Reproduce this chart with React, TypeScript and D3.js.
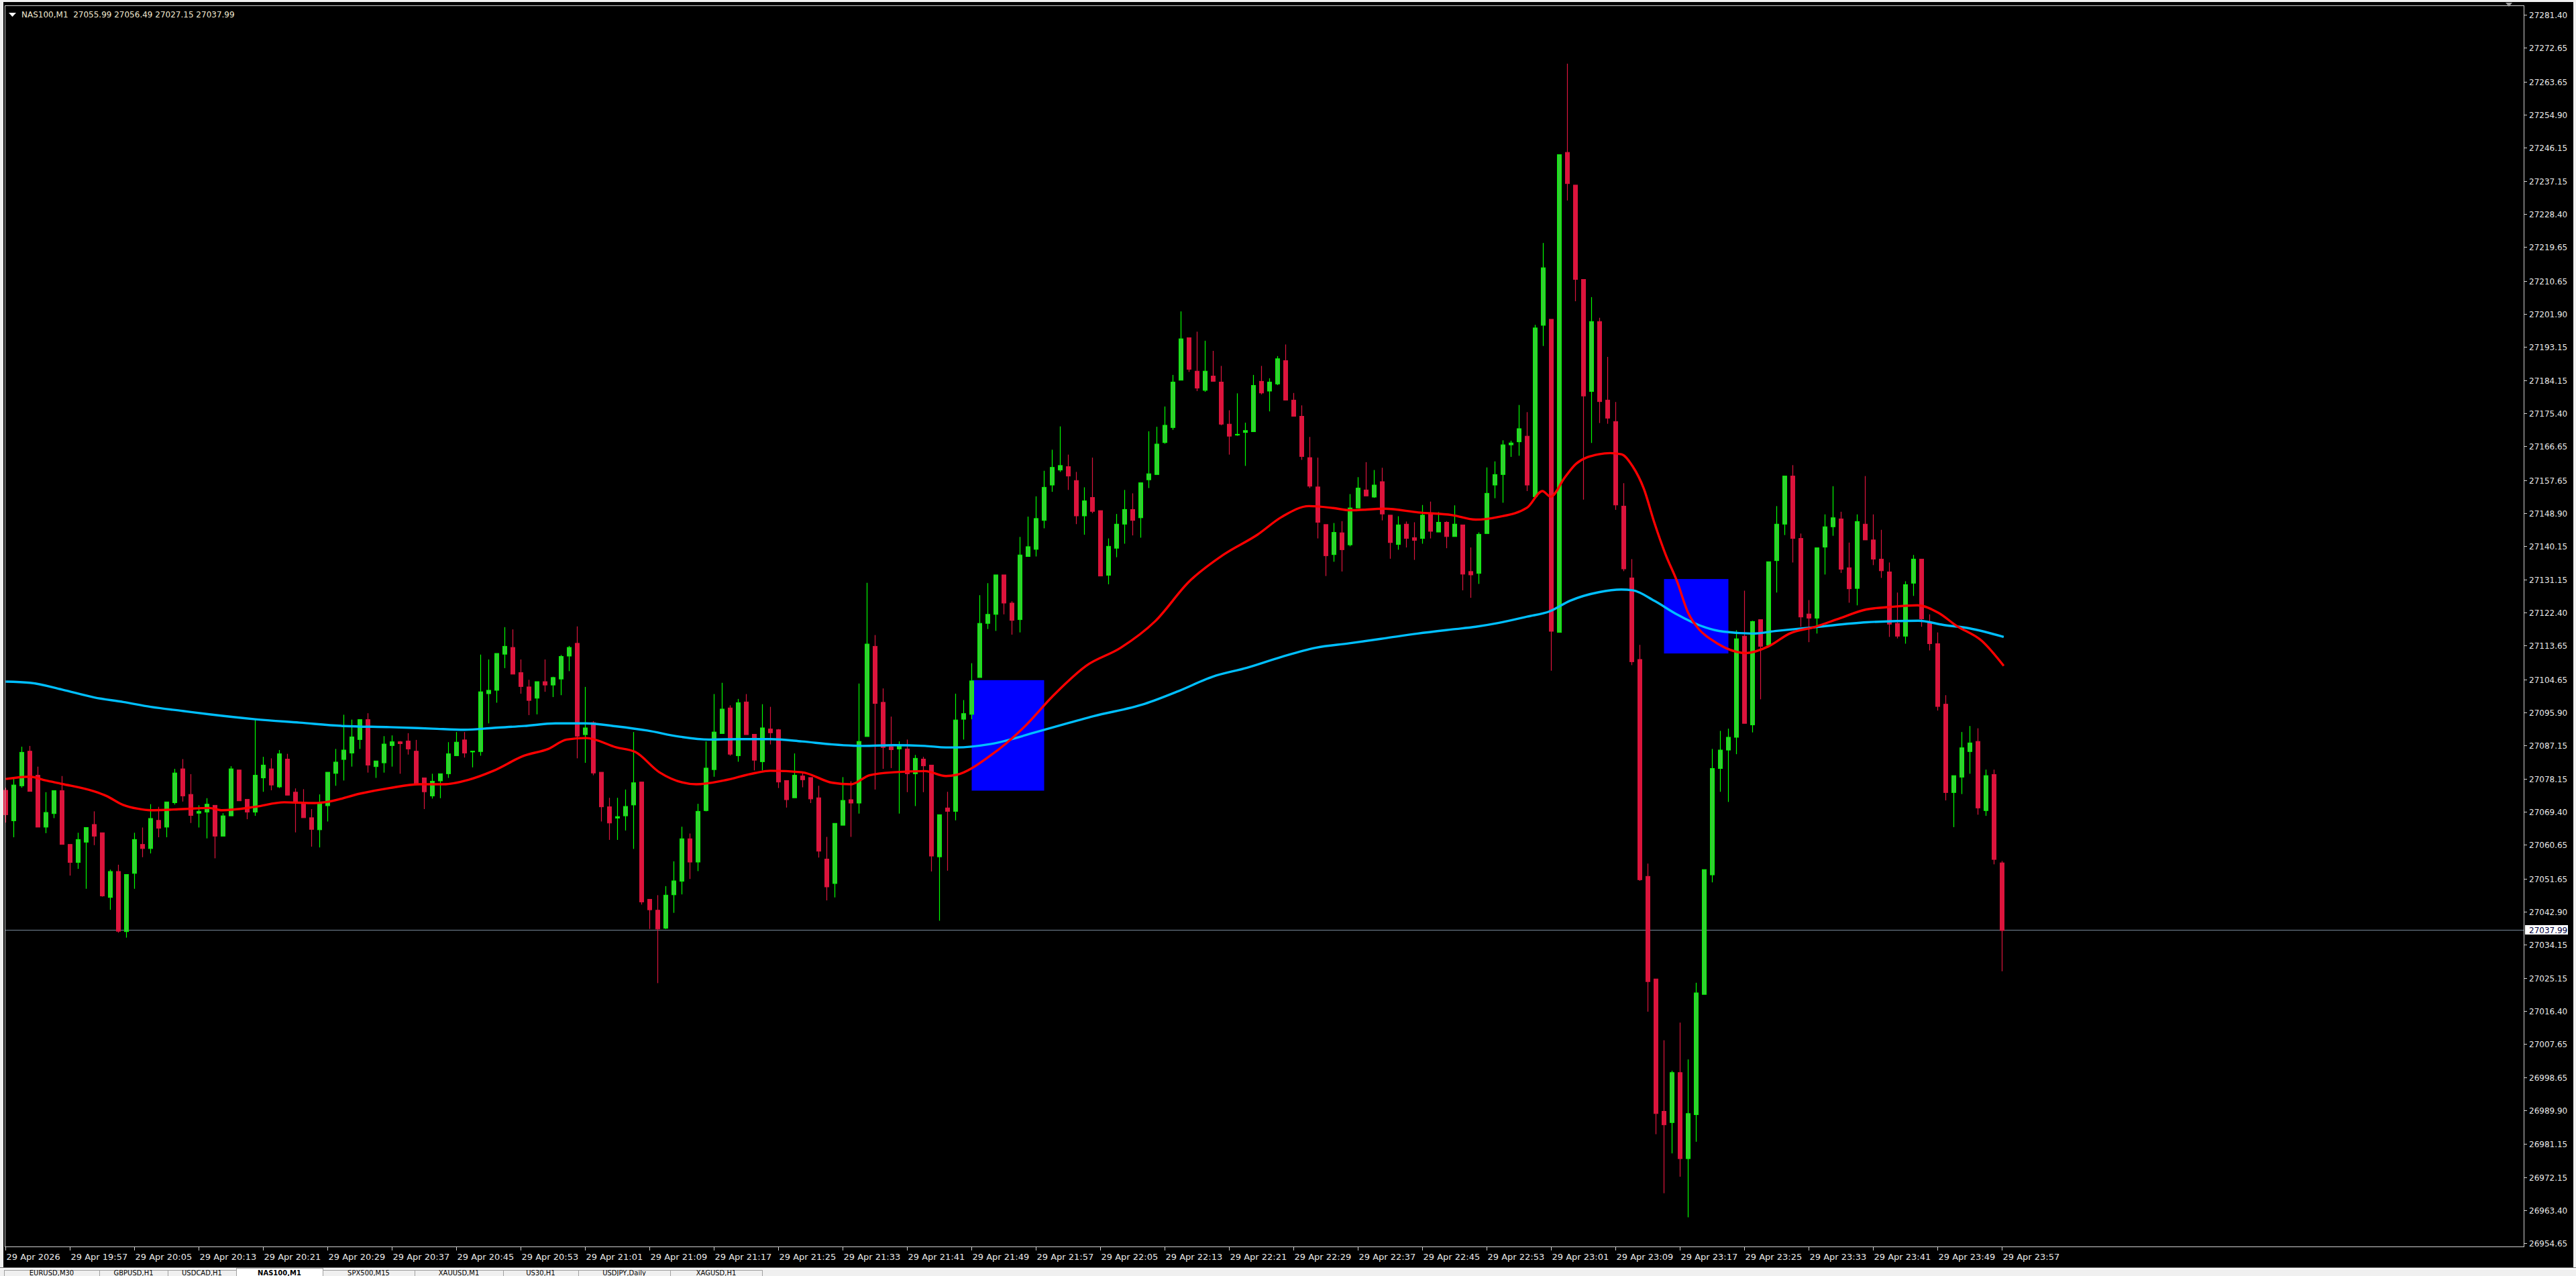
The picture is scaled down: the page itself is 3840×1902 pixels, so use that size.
import React from "react";
import * as d3 from "d3";

const symbolTitle = "NAS100,M1";
const headerOHLC = ["27055.99", "27056.49", "27027.15", "27037.99"];
const currentPrice = 27037.99;

const timeLabels = [
  "29 Apr 2026", "29 Apr 19:57", "29 Apr 20:05", "29 Apr 20:13", "29 Apr 20:21", "29 Apr 20:29",
  "29 Apr 20:37", "29 Apr 20:45", "29 Apr 20:53", "29 Apr 21:01", "29 Apr 21:09", "29 Apr 21:17",
  "29 Apr 21:25", "29 Apr 21:33", "29 Apr 21:41", "29 Apr 21:49", "29 Apr 21:57", "29 Apr 22:05",
  "29 Apr 22:13", "29 Apr 22:21", "29 Apr 22:29", "29 Apr 22:37", "29 Apr 22:45", "29 Apr 22:53",
  "29 Apr 23:01", "29 Apr 23:09", "29 Apr 23:17", "29 Apr 23:25", "29 Apr 23:33", "29 Apr 23:41",
  "29 Apr 23:49", "29 Apr 23:57",
];
const timeLabelStep = 8;

const priceTicks = [
  "27281.40", "27272.65", "27263.65", "27254.90", "27246.15", "27237.15", "27228.40", "27219.65",
  "27210.65", "27201.90", "27193.15", "27184.15", "27175.40", "27166.65", "27157.65", "27148.90",
  "27140.15", "27131.15", "27122.40", "27113.65", "27104.65", "27095.90", "27087.15", "27078.15",
  "27069.40", "27060.65", "27051.65", "27042.90", "27034.15", "27025.15", "27016.40", "27007.65",
  "26998.65", "26989.90", "26981.15", "26972.15", "26963.40", "26954.65",
];

// OHLC, one minute bars from 19:49 to 23:57
const opens = [
  27075.3, 27067.2, 27076.5, 27085.7, 27079.3, 27065.5, 27069.1, 27075.2, 27060.9, 27056.1,
  27061.5, 27066.2, 27064.0, 27046.8, 27053.7, 27037.7, 27053.2, 27060.9, 27059.8, 27067.3,
  27065.5, 27072.0, 27081.0, 27074.2, 27069.2, 27069.5, 27071.3, 27063.1, 27068.5, 27080.7,
  27072.9, 27069.5, 27078.6, 27081.0, 27076.2, 27083.6, 27074.8, 27072.0, 27068.0, 27064.8,
  27071.2, 27079.8, 27083.5, 27085.2, 27088.8, 27094.1, 27081.6, 27082.6, 27087.2, 27088.2,
  27088.4, 27085.7, 27078.6, 27073.8, 27077.8, 27079.7, 27084.5, 27088.7, 27085.5, 27085.6,
  27101.0, 27101.9, 27111.5, 27113.3, 27106.6, 27102.8, 27099.8, 27104.2, 27103.3, 27104.9,
  27111.0, 27114.4, 27090.1, 27093.3, 27080.1, 27070.9, 27067.9, 27068.5, 27071.4, 27077.5,
  27046.3, 27043.4, 27038.6, 27047.5, 27051.1, 27062.4, 27056.2, 27069.9, 27080.8, 27090.4,
  27097.2, 27084.5, 27098.8, 27090.2, 27082.9, 27091.6, 27091.4, 27077.9, 27073.3, 27079.1,
  27078.7, 27073.3, 27057.0, 27050.5, 27066.0, 27072.8, 27071.9, 27089.6, 27113.6, 27098.7,
  27086.9, 27086.3, 27086.3, 27079.7, 27083.6, 27082.0, 27057.6, 27070.6, 27069.7, 27094.2,
  27095.5, 27105.3, 27119.7, 27122.1, 27132.6, 27125.1, 27120.7, 27137.5, 27139.4, 27147.1,
  27156.5, 27160.5, 27161.4, 27157.7, 27148.3, 27153.2, 27149.7, 27132.5, 27139.7, 27146.1,
  27150.0, 27147.8, 27157.9, 27159.3, 27167.8, 27171.8, 27184.4, 27195.7, 27186.8, 27181.7,
  27185.5, 27183.9, 27172.7, 27169.8, 27170.5, 27170.7, 27184.1, 27181.5, 27183.4, 27189.6,
  27179.1, 27174.8, 27163.8, 27156.0, 27146.0, 27138.0, 27143.8, 27140.6, 27150.4, 27155.2,
  27153.3, 27157.4, 27148.5, 27140.7, 27146.1, 27142.5, 27142.3, 27148.8, 27144.0, 27146.6,
  27142.8, 27145.9, 27133.5, 27133.0, 27143.6, 27156.5, 27159.3, 27167.2, 27168.0, 27169.5,
  27153.4, 27199.0, 27200.6, 27117.3, 27245.0, 27236.3, 27211.2, 27181.4, 27200.0, 27179.1,
  27173.4, 27150.9, 27131.8, 27110.1, 27052.4, 27025.1, 26989.9, 26986.9, 27000.2, 26977.3,
  26989.0, 27021.0, 27052.8, 27081.1, 27086.0, 27089.4, 27116.3, 27092.7, 27120.7, 27113.9,
  27136.4, 27146.1, 27158.9, 27142.3, 27122.2, 27121.1, 27140.0, 27145.4, 27147.5, 27134.5,
  27129.0, 27146.1, 27141.9, 27136.8, 27133.4, 27119.7, 27116.3, 27130.4, 27136.8, 27120.0,
  27114.3, 27098.2, 27074.7, 27078.8, 27085.6, 27088.3, 27069.9, 27079.5, 27055.99,
];
const highs = [
  27076.0, 27078.7, 27086.9, 27087.1, 27081.6, 27074.8, 27075.2, 27079.1, 27060.9, 27064.0,
  27065.4, 27069.7, 27064.0, 27054.2, 27055.5, 27052.9, 27064.0, 27065.4, 27071.6, 27070.9,
  27072.2, 27081.0, 27083.6, 27079.6, 27071.3, 27073.2, 27071.3, 27069.2, 27081.7, 27080.7,
  27072.9, 27094.1, 27084.2, 27083.8, 27086.0, 27085.0, 27075.8, 27075.6, 27070.3, 27074.2,
  27080.1, 27086.3, 27095.4, 27094.1, 27094.1, 27095.8, 27083.1, 27089.7, 27089.9, 27088.4,
  27090.5, 27088.7, 27078.6, 27079.7, 27079.7, 27088.1, 27090.8, 27090.8, 27085.7, 27111.4,
  27110.1, 27111.7, 27118.7, 27118.1, 27110.1, 27104.7, 27104.2, 27110.1, 27105.5, 27111.3,
  27113.7, 27118.9, 27102.8, 27093.7, 27080.1, 27073.3, 27073.3, 27075.5, 27090.8, 27077.5,
  27046.3, 27047.4, 27049.8, 27056.4, 27065.6, 27063.8, 27071.7, 27088.3, 27100.9, 27103.9,
  27097.9, 27099.6, 27100.9, 27090.2, 27098.2, 27097.5, 27091.6, 27077.9, 27085.1, 27080.1,
  27078.7, 27076.5, 27062.9, 27066.5, 27078.8, 27077.7, 27103.7, 27130.5, 27116.6, 27102.4,
  27094.9, 27088.3, 27088.8, 27084.7, 27084.2, 27082.0, 27068.8, 27074.9, 27101.0, 27099.3,
  27109.1, 27127.2, 27130.4, 27132.6, 27132.6, 27125.6, 27142.7, 27148.1, 27153.5, 27160.3,
  27165.9, 27172.1, 27164.6, 27160.0, 27155.9, 27163.8, 27149.7, 27142.3, 27148.8, 27155.2,
  27154.3, 27157.1, 27170.8, 27172.0, 27177.4, 27185.8, 27202.7, 27195.7, 27197.3, 27194.9,
  27192.2, 27188.2, 27176.4, 27180.9, 27173.1, 27185.8, 27188.2, 27184.9, 27190.8, 27193.9,
  27181.0, 27177.7, 27169.3, 27163.8, 27146.0, 27146.4, 27146.9, 27154.1, 27158.6, 27162.6,
  27160.5, 27161.1, 27148.5, 27148.2, 27146.8, 27146.6, 27151.2, 27152.1, 27149.3, 27146.9,
  27151.1, 27145.9, 27139.9, 27143.9, 27161.2, 27162.8, 27168.4, 27168.3, 27177.8, 27175.9,
  27199.1, 27220.9, 27200.6, 27244.4, 27268.6, 27236.3, 27211.2, 27206.5, 27201.0, 27190.6,
  27178.6, 27157.0, 27136.8, 27114.0, 27055.8, 27025.1, 27008.8, 27000.7, 27013.5, 27003.7,
  27024.1, 27054.2, 27086.3, 27091.1, 27091.7, 27117.9, 27128.4, 27120.4, 27120.7, 27136.1,
  27150.9, 27158.9, 27161.8, 27143.6, 27125.9, 27139.8, 27148.7, 27156.2, 27149.4, 27141.2,
  27148.7, 27158.9, 27148.7, 27144.6, 27135.9, 27127.9, 27130.9, 27137.9, 27136.8, 27122.1,
  27117.3, 27100.6, 27079.2, 27090.8, 27092.4, 27091.8, 27080.8, 27080.8, 27056.49,
];
const lows = [
  27066.7, 27062.8, 27076.0, 27075.0, 27065.5, 27063.9, 27067.9, 27060.9, 27052.6, 27054.4,
  27049.1, 27060.7, 27047.0, 27043.5, 27037.4, 27036.1, 27049.1, 27057.5, 27058.5, 27062.8,
  27062.8, 27071.5, 27072.3, 27066.6, 27065.4, 27062.5, 27057.2, 27063.1, 27068.5, 27072.5,
  27067.6, 27068.5, 27074.9, 27075.3, 27075.9, 27074.0, 27064.1, 27068.0, 27060.3, 27060.1,
  27067.0, 27076.5, 27077.9, 27081.6, 27086.3, 27080.0, 27078.6, 27080.0, 27081.6, 27079.7,
  27084.8, 27077.0, 27070.3, 27073.1, 27073.2, 27078.6, 27084.5, 27084.0, 27081.4, 27084.5,
  27093.1, 27098.6, 27107.8, 27106.2, 27101.0, 27095.3, 27095.5, 27101.5, 27100.1, 27100.6,
  27107.0, 27083.8, 27082.6, 27079.3, 27067.0, 27062.1, 27062.1, 27064.6, 27059.7, 27044.9,
  27038.4, 27024.0, 27038.4, 27042.7, 27047.6, 27051.7, 27053.8, 27069.7, 27078.9, 27090.4,
  27084.5, 27082.9, 27090.1, 27080.6, 27080.6, 27087.5, 27075.9, 27070.7, 27073.3, 27076.1,
  27071.9, 27057.4, 27046.0, 27046.8, 27066.0, 27062.9, 27069.1, 27089.6, 27075.5, 27081.0,
  27081.2, 27069.1, 27074.8, 27071.1, 27074.8, 27053.7, 27040.6, 27053.9, 27067.3, 27088.8,
  27094.2, 27105.3, 27118.2, 27117.7, 27122.1, 27116.7, 27117.3, 27137.5, 27137.5, 27145.0,
  27154.7, 27160.0, 27155.2, 27146.1, 27143.3, 27149.0, 27132.3, 27130.1, 27137.3, 27140.9,
  27143.1, 27142.5, 27155.7, 27159.3, 27167.5, 27171.2, 27184.4, 27186.6, 27181.5, 27181.3,
  27184.0, 27172.4, 27164.6, 27169.6, 27161.6, 27170.7, 27180.6, 27176.1, 27183.1, 27179.1,
  27174.8, 27163.2, 27155.7, 27142.3, 27132.3, 27136.1, 27133.5, 27140.2, 27150.4, 27153.6,
  27153.1, 27147.1, 27136.9, 27139.3, 27139.9, 27136.6, 27140.9, 27142.3, 27144.0, 27139.7,
  27142.8, 27128.5, 27126.5, 27130.2, 27143.6, 27153.0, 27151.8, 27164.0, 27164.3, 27154.9,
  27153.4, 27193.5, 27107.1, 27117.3, 27232.2, 27205.4, 27152.6, 27167.7, 27173.0, 27172.8,
  27149.9, 27133.6, 27108.6, 27051.2, 27016.4, 26983.8, 26968.1, 26978.7, 26972.5, 26961.7,
  26981.8, 27021.0, 27050.8, 27074.9, 27072.2, 27084.9, 27093.1, 27090.7, 27099.5, 27113.9,
  27127.9, 27143.2, 27135.9, 27118.8, 27114.7, 27117.0, 27132.7, 27143.0, 27133.1, 27125.2,
  27124.5, 27141.9, 27135.2, 27131.8, 27116.1, 27115.7, 27114.3, 27127.0, 27118.8, 27112.5,
  27096.5, 27072.6, 27065.5, 27074.3, 27079.7, 27068.8, 27068.5, 27055.6, 27027.15,
];
const closes = [
  27068.8, 27076.7, 27085.4, 27075.0, 27065.5, 27069.4, 27075.2, 27060.9, 27056.1, 27062.2,
  27065.4, 27063.1, 27047.2, 27053.7, 27037.8, 27052.9, 27062.2, 27059.8, 27067.8, 27065.2,
  27072.2, 27079.9, 27073.8, 27068.6, 27069.7, 27071.6, 27063.1, 27068.5, 27081.0, 27072.5,
  27069.5, 27079.3, 27082.0, 27076.7, 27085.0, 27074.0, 27072.0, 27068.0, 27064.9, 27071.7,
  27080.1, 27082.8, 27086.0, 27089.5, 27094.1, 27082.0, 27083.1, 27087.6, 27088.2, 27087.7,
  27086.3, 27077.0, 27074.9, 27077.7, 27079.7, 27085.0, 27088.1, 27085.2, 27085.7, 27101.5,
  27101.9, 27111.7, 27113.6, 27106.2, 27102.9, 27099.2, 27104.2, 27103.3, 27105.3, 27110.9,
  27113.3, 27089.7, 27091.9, 27079.9, 27070.9, 27066.6, 27068.3, 27071.0, 27077.3, 27045.6,
  27043.5, 27038.4, 27047.4, 27051.2, 27062.4, 27056.2, 27069.7, 27081.2, 27090.8, 27096.9,
  27084.9, 27098.6, 27090.1, 27083.3, 27091.9, 27090.6, 27077.5, 27072.8, 27079.3, 27078.1,
  27073.0, 27059.1, 27049.6, 27066.5, 27072.6, 27071.9, 27088.3, 27114.2, 27098.4, 27086.7,
  27086.1, 27087.1, 27079.7, 27083.8, 27081.8, 27057.8, 27068.8, 27069.7, 27094.0, 27095.7,
  27104.4, 27119.7, 27122.1, 27132.6, 27125.1, 27120.5, 27137.9, 27140.1, 27147.6, 27155.9,
  27161.2, 27161.7, 27158.9, 27148.3, 27152.3, 27149.5, 27132.3, 27140.2, 27146.1, 27150.0,
  27147.1, 27157.1, 27159.5, 27167.4, 27172.4, 27183.9, 27195.4, 27187.3, 27182.3, 27186.8,
  27184.1, 27172.7, 27169.5, 27170.0, 27171.0, 27183.0, 27181.0, 27183.9, 27190.1, 27179.1,
  27174.8, 27164.1, 27156.2, 27146.6, 27137.7, 27143.9, 27139.3, 27150.4, 27155.7, 27153.6,
  27156.5, 27148.8, 27141.2, 27145.9, 27142.3, 27141.8, 27148.5, 27144.2, 27146.6, 27142.8,
  27146.1, 27132.8, 27132.6, 27143.4, 27154.3, 27159.3, 27167.2, 27167.7, 27171.5, 27156.5,
  27198.3, 27214.3, 27117.6, 27244.4, 27236.7, 27211.2, 27180.2, 27200.0, 27178.7, 27174.3,
  27151.2, 27134.2, 27109.5, 27051.5, 27024.4, 26989.3, 26986.3, 27000.2, 26977.3, 26989.3,
  27021.4, 27054.2, 27081.1, 27086.0, 27089.4, 27115.6, 27093.1, 27120.2, 27113.6, 27136.1,
  27146.1, 27158.9, 27142.3, 27121.4, 27121.1, 27139.8, 27145.4, 27147.8, 27134.1, 27128.9,
  27146.8, 27141.9, 27136.8, 27133.7, 27119.5, 27116.3, 27130.0, 27136.8, 27120.9, 27114.3,
  27097.6, 27074.7, 27079.2, 27086.6, 27087.9, 27070.6, 27079.2, 27056.9, 27037.99,
];

// moving averages: [bar index, price]
const fastMA: [number, number][] = [
  [0, 27078.3], [3, 27078.9], [5, 27077.9], [7, 27077.0], [11, 27075.0], [12.5, 27073.8],
  [14.6, 27071.4], [16.4, 27070.4], [18, 27070.0], [22, 27070.3], [25.3, 27070.6], [26.8, 27070.0],
  [31, 27070.9], [34.6, 27072.1], [38.4, 27071.9], [40.2, 27072.3], [44, 27074.4], [47.7, 27075.9],
  [51.4, 27076.9], [54.4, 27076.9], [57.5, 27078.1], [60.6, 27080.5], [64.4, 27084.5], [67.4, 27086.3],
  [69.7, 27088.8], [72.1, 27089.2], [75.9, 27086.7], [78.2, 27085.5], [81.2, 27080.1], [85.8, 27076.9],
  [89.2, 27077.9], [93.1, 27079.9], [95, 27080.5], [98.9, 27080.1], [102.7, 27077.3], [105, 27076.9],
  [107.3, 27079.3], [110.3, 27080.1], [114.2, 27080.4], [116.8, 27079.1], [118.1, 27079.4],
  [122.3, 27084.5], [126.5, 27092.1], [130, 27100.2], [134.2, 27108.4], [138.5, 27113.2],
  [142.8, 27120.3], [147, 27130.8], [151.3, 27138.0], [155.5, 27143.3], [158.5, 27148.0],
  [161.9, 27150.9], [164.9, 27150.4], [167, 27149.8], [171.3, 27150.2], [175.5, 27149.2],
  [179.7, 27148.5], [182.6, 27147.3], [185.4, 27148.0], [189, 27150.5], [190.9, 27154.9],
  [191.9, 27153.4], [193.7, 27158.6], [195.1, 27162.2], [197.9, 27164.7], [199.3, 27165.0],
  [200.7, 27164.7], [202.1, 27161.5], [203.5, 27155.5], [204.8, 27146.5], [206.2, 27138.0],
  [207.6, 27131.0], [209.0, 27122.5], [210.4, 27118.0], [211.8, 27115.5], [213.6, 27113.2],
  [216.2, 27111.8], [219.0, 27113.6], [221.6, 27117.0], [224.8, 27118.8], [227.9, 27121.1],
  [231.1, 27123.4], [234.3, 27124.1], [237.5, 27124.5], [240.1, 27122.5], [242.3, 27119.1],
  [245.5, 27115.0], [248.2, 27108.4],
];
const slowMA: [number, number][] = [
  [0, 27104.2], [3, 27103.9], [7, 27102.1], [11, 27100.0], [14.6, 27098.8], [18, 27097.5],
  [22, 27096.4], [25.3, 27095.5], [31, 27094.2], [36.5, 27093.3], [42, 27092.4], [47.7, 27092.1],
  [53, 27091.7], [57, 27091.4], [60.6, 27091.9], [64.4, 27092.4], [68.3, 27093.1], [72.1, 27093.1],
  [75.9, 27092.3], [79.7, 27091.2], [83.6, 27089.6], [87.4, 27088.8], [91.2, 27088.9], [95, 27088.9],
  [98.9, 27088.3], [102.7, 27087.5], [106.5, 27087.1], [110.3, 27087.3], [114.2, 27087.1],
  [116.8, 27086.7], [118.1, 27086.7], [122.3, 27087.6], [128.7, 27091.2], [135.1, 27095.0],
  [141.5, 27098.3], [145.7, 27101.7], [149.9, 27105.5], [154.2, 27107.9], [158.5, 27110.8],
  [162.7, 27113.2], [166.9, 27114.4], [171.2, 27115.7], [175.4, 27117.0], [179.7, 27118.1],
  [182.6, 27118.8], [185.4, 27119.8], [189, 27121.5], [191.8, 27122.9], [194.3, 27125.7],
  [197.9, 27128.0], [200.7, 27128.7], [202.1, 27128.5], [204.8, 27125.7], [207.6, 27122.1],
  [210.4, 27119.2], [213.4, 27117.5], [217, 27117.0], [220, 27117.7], [224.8, 27118.7],
  [231.2, 27120.0], [237.6, 27120.4], [240.7, 27119.3], [243.9, 27118.4], [248.2, 27116.1],
];

// rectangle objects: bar range and price range
const boxFrom = [120, 206];
const boxTo = [129, 214];
const boxTop = [27104.6, 27131.5];
const boxBottom = [27075.2, 27111.7];

const tabNames = ["EURUSD,M30", "GBPUSD,H1", "USDCAD,H1", "NAS100,M1", "SPX500,M15", "XAUUSD,M1", "US30,H1", "USDJPY,Daily", "XAGUSD,H1"];
const tabEdges = [6, 148, 250, 352, 481, 618, 750, 862, 999, 1136];

const W = 3840;
const H = 1902;
const plotLeft = 7;
const plotTop = 8;
const plotRight = 3762;
const plotBottom = 1858;

const BULL_FILL = "#32cd32";
const BULL_LINE = "#00ff00";
const BEAR = "#dc143c";
const FONT = "'DejaVu Sans', sans-serif";

export default function App() {
  const n = opens.length;
  const x = d3.scaleLinear().domain([0, n - 1]).range([8.5, 8.5 + 12 * (n - 1)]);
  const y = d3.scaleLinear().domain([26954.65, 27281.4]).range([1854.0, 23.2]);

  const lineGen = d3
    .line<[number, number]>()
    .x((d) => x(d[0]))
    .y((d) => y(d[1]))
    .curve(d3.curveMonotoneX);

  const bodyW = 6;

  const candles = d3.range(n).map((i) => {
    const o = opens[i], c = closes[i], h = highs[i], l = lows[i];
    const cx = Math.round(x(i) - 0.5) + 0.5;
    const bull = c >= o;
    const yTop = y(Math.max(o, c));
    const yBot = y(Math.min(o, c));
    const bh = Math.max(1, yBot - yTop);
    return (
      <g key={i}>
        <line x1={cx} x2={cx} y1={y(h)} y2={y(l)} stroke={bull ? BULL_LINE : BEAR} strokeWidth={1.2} />
        <rect
          x={cx - bodyW / 2}
          y={yTop}
          width={bodyW}
          height={bh}
          fill={bull ? BULL_FILL : BEAR}
          stroke={bull ? BULL_LINE : BEAR}
          strokeWidth={1}
        />
      </g>
    );
  });

  const tabs = tabNames.map((t, k) => {
    const x0 = tabEdges[k];
    const w = tabEdges[k + 1] - x0;
    const active = t === symbolTitle;
    return (
      <g key={t}>
        <rect x={x0 + 0.5} y={active ? 1890.5 : 1893.5} width={w} height={20} fill={active ? "#ffffff" : "#f0f0f0"} stroke="#a0a0a0" strokeWidth={1} />
        <text x={x0 + w / 2} y={1901} fontSize={10} fontFamily={FONT} fill="#000" textAnchor="middle" fontWeight={active ? 700 : 400}>
          {t}
        </text>
      </g>
    );
  });

  return (
    <svg width={W} height={H} style={{ position: "absolute", left: 0, top: 0, display: "block" }}>
      <rect x={0} y={0} width={W} height={H} fill="#f0f0f0" />
      <rect x={5} y={3} width={3831} height={1886} fill="#000000" />
      {/* window bottom separator */}
      <line x1={0} x2={W} y1={1889.5} y2={1889.5} stroke="#707070" strokeWidth={1} />
      <line x1={0} x2={W} y1={1891.5} y2={1891.5} stroke="#ffffff" strokeWidth={1} />
      <rect x={0} y={1892} width={W} height={10} fill="#f0f0f0" />
      <g>{tabs}</g>

      {/* rectangles (background objects) */}
      {boxFrom.map((f, k) => (
        <rect
          key={k}
          x={x(f)}
          y={y(boxTop[k])}
          width={x(boxTo[k]) - x(f)}
          height={y(boxBottom[k]) - y(boxTop[k])}
          fill="#0000ff"
        />
      ))}

      {/* current price line */}
      <line x1={plotLeft} x2={plotRight} y1={Math.round(y(currentPrice)) - 0.5} y2={Math.round(y(currentPrice)) - 0.5} stroke="#778899" strokeWidth={1} />

      {candles}

      <path d={lineGen(slowMA) || ""} fill="none" stroke="#00bfff" strokeWidth={3.4} strokeLinejoin="round" />
      <path d={lineGen(fastMA) || ""} fill="none" stroke="#ff0000" strokeWidth={3.4} strokeLinejoin="round" />

      {/* frame */}
      <rect x={plotLeft + 0.5} y={plotTop + 0.5} width={plotRight - plotLeft} height={plotBottom - plotTop} fill="none" stroke="#d0d0d0" strokeWidth={1} />

      {/* price axis */}
      {priceTicks.map((t) => {
        const yy = Math.round(y(parseFloat(t))) - 0.5;
        return (
          <g key={t}>
            <line x1={plotRight + 0.5} x2={plotRight + 5} y1={yy} y2={yy} stroke="#d0d0d0" strokeWidth={1} />
            <text x={3770} y={yy + 4.5} fontSize={12} fontFamily={FONT} fill="#e8e8e8">
              {t}
            </text>
          </g>
        );
      })}
      <rect x={3764} y={Math.round(y(currentPrice)) - 8} width={64} height={14} fill="#ffffff" />
      <text x={3770} y={Math.round(y(currentPrice)) + 3.5} fontSize={12} fontFamily={FONT} fill="#000040">
        {currentPrice.toFixed(2)}
      </text>

      {/* time axis */}
      {timeLabels.map((t, k) => {
        const xx = Math.round(x(k * timeLabelStep) - 0.5) + 0.5;
        return (
          <g key={t}>
            <line x1={xx} x2={xx} y1={plotBottom} y2={plotBottom + 6} stroke="#d0d0d0" strokeWidth={1} />
            <text x={xx + 1} y={1878} fontSize={13} fontFamily={FONT} fill="#e8e8e8">
              {t}
            </text>
          </g>
        );
      })}

      {/* header */}
      <path d="M13,19 L24,19 L18.5,25 Z" fill="#ffffff" />
      <text x={32} y={26} fontSize={12} fontFamily={FONT} fill="#f0e8d0" style={{ whiteSpace: "pre" }}>
        {symbolTitle + "  " + headerOHLC.join(" ")}
      </text>

      {/* chart shift marker */}
      <path d="M3735,4 L3745,4 L3740,10 Z" fill="#a0a0a0" />
    </svg>
  );
}
